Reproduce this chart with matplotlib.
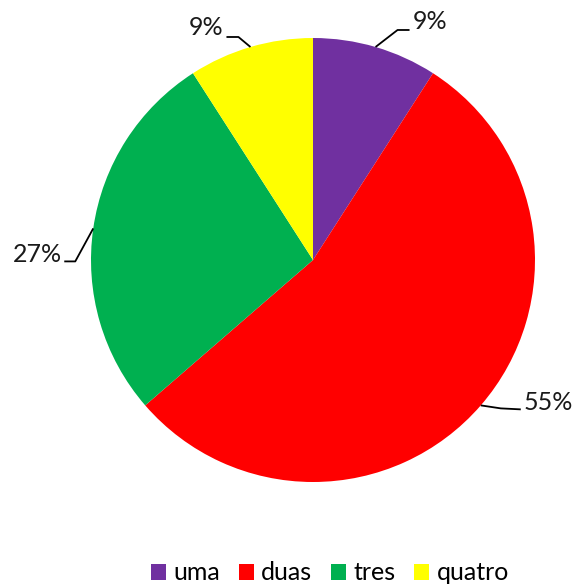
import numpy as np
import matplotlib.pyplot as plt
from matplotlib.patches import Patch

categories = ["uma", "duas", "tres", "quatro"]
values = [1, 6, 3, 1]
colors = ['#7030A0', '#FF0000', '#00B050', '#FFFF00']

plt.rcParams['font.family'] = ['Lato', 'DejaVu Sans']

W, H = 573, 586
fig = plt.figure(figsize=(W / 100, H / 100), dpi=100)
ax = fig.add_axes([0, 0, 1, 1])

cx, cy, r = 313, H - 260, 222
wedges, _ = ax.pie(values, colors=colors, startangle=90, counterclock=False,
                   center=(cx, cy), radius=r, frame=True)
ax.set_xlim(0, W)
ax.set_ylim(0, H)
ax.set_aspect('equal')
ax.axis('off')

total = sum(values)
# leader line: (elbow offset from edge, end offset from edge, text offset from edge, ha)
leaders = [
    ((22, 17), (34, 17), (37, 25), 'left'),
    ((20, -3), (40, -4), (43, 3), 'left'),
    ((-18, -33), (-29, -33), (-31, -26), 'right'),
    ((-12, 10), (-24, 10), (-27, 19), 'right'),
]
for w, v, (el, en, tx, ha) in zip(wedges, values, leaders):
    th = np.deg2rad((w.theta1 + w.theta2) / 2)
    ex, ey = cx + r * np.cos(th), cy + r * np.sin(th)
    ax.plot([ex, ex + el[0], ex + en[0]], [ey, ey + el[1], ey + en[1]],
            color='black', lw=1.3, solid_capstyle='butt')
    ax.text(ex + tx[0], ey + tx[1], f"{v / total * 100:.0f}%", ha=ha,
            va='center', fontsize=18, color='#1a1a1a')

handles = [Patch(facecolor=c, edgecolor='none') for c in colors]
ax.legend(handles, categories, loc='center', bbox_to_anchor=(330 / W, 13 / H),
          ncol=4, frameon=False, fontsize=18, handlelength=0.6, handleheight=0.6,
          handletextpad=0.3, columnspacing=0.75)

fig.savefig("out.png", dpi=100)
